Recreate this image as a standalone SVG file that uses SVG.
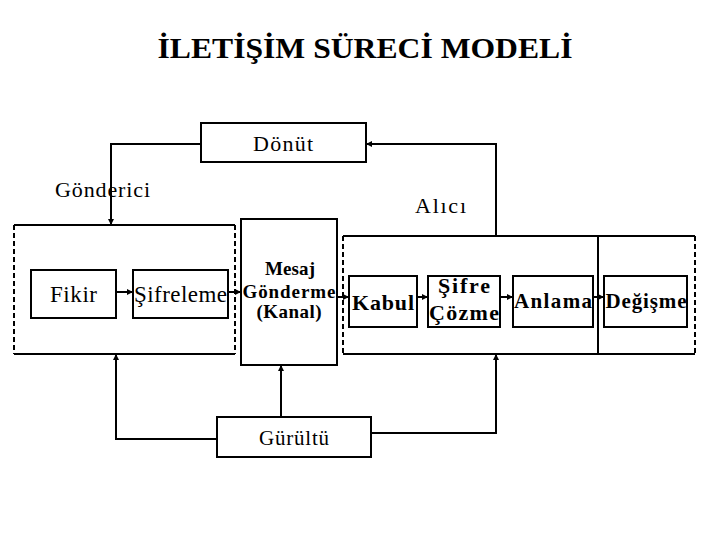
<svg xmlns="http://www.w3.org/2000/svg" width="720" height="540" viewBox="0 0 720 540">
<style>
.box{fill:#fff;stroke:#000;stroke-width:2}
.solid{fill:none;stroke:#000;stroke-width:2}
.dash{fill:none;stroke:#000;stroke-width:2;stroke-dasharray:5,3}
.con{fill:none;stroke:#000;stroke-width:2}
</style>
<defs>
<marker id="ah" viewBox="0 0 10 10" refX="10" refY="5" markerWidth="3" markerHeight="3" orient="auto" markerUnits="strokeWidth">
<path d="M0,0 L10,5 L0,10 z" fill="#000"/>
</marker>
</defs>
<rect width="720" height="540" fill="#fff"/>
<text x="365" y="58" font-family="Liberation Serif" font-weight="bold" font-size="30" text-anchor="middle" textLength="415" lengthAdjust="spacingAndGlyphs">İLETİŞİM SÜRECİ MODELİ</text>

<g id="gonderici" font-family="Liberation Serif">
<line class="solid" x1="14" y1="225" x2="235" y2="225"/>
<line class="solid" x1="14" y1="354" x2="235" y2="354"/>
<line class="dash" x1="14" y1="225" x2="14" y2="354"/>
<line class="dash" x1="235" y1="225" x2="235" y2="354"/>
<text x="55" y="197" font-family="Liberation Serif" font-size="22" textLength="95" lengthAdjust="spacing">Gönderici</text>
</g>
<g id="alici" font-family="Liberation Serif">
<line class="solid" x1="343" y1="236" x2="695" y2="236"/>
<line class="solid" x1="343" y1="354" x2="695" y2="354"/>
<line class="dash" x1="343" y1="236" x2="343" y2="354"/>
<line class="dash" x1="695" y1="236" x2="695" y2="354"/>
<line class="solid" x1="598" y1="236" x2="598" y2="354"/>
<text x="415" y="213" font-family="Liberation Serif" font-size="22" textLength="51" lengthAdjust="spacing">Alıcı</text>
</g>

<g id="fikir" font-family="Liberation Serif"><rect class="box" x="31" y="270" width="85" height="48"/>
<text x="73.5" y="302" font-family="Liberation Serif" font-size="23" text-anchor="middle" textLength="47" lengthAdjust="spacing">Fikir</text></g>
<g id="sifreleme" font-family="Liberation Serif"><rect class="box" x="133" y="270" width="95" height="48"/>
<text x="180.5" y="302" font-family="Liberation Serif" font-size="23" text-anchor="middle" textLength="93" lengthAdjust="spacing">Şifreleme</text></g>
<g id="mesaj" font-family="Liberation Serif" font-weight="bold"><rect class="box" x="241" y="219" width="96" height="146"/>
<text x="290" y="275" font-family="Liberation Serif" font-weight="bold" font-size="19" text-anchor="middle" textLength="50" lengthAdjust="spacing">Mesaj</text>
<text x="289" y="298" font-family="Liberation Serif" font-weight="bold" font-size="19" text-anchor="middle" textLength="93" lengthAdjust="spacing">Gönderme</text>
<text x="289" y="318" font-family="Liberation Serif" font-weight="bold" font-size="19" text-anchor="middle" textLength="65" lengthAdjust="spacing">(Kanal)</text></g>
<g id="kabul" font-family="Liberation Serif" font-weight="bold"><rect class="box" x="349" y="276" width="68" height="51"/>
<text x="383" y="310" font-family="Liberation Serif" font-weight="bold" font-size="22" text-anchor="middle" textLength="62" lengthAdjust="spacing">Kabul</text></g>
<g id="sifrecozme" font-family="Liberation Serif" font-weight="bold"><rect class="box" x="428" y="276" width="72" height="51"/>
<text x="464" y="293" font-family="Liberation Serif" font-weight="bold" font-size="22" text-anchor="middle" textLength="52" lengthAdjust="spacing">Şifre</text>
<text x="464" y="320" font-family="Liberation Serif" font-weight="bold" font-size="22" text-anchor="middle" textLength="70" lengthAdjust="spacing">Çözme</text></g>
<g id="anlama" font-family="Liberation Serif" font-weight="bold"><rect class="box" x="513" y="276" width="80" height="51"/>
<text x="553" y="308" font-family="Liberation Serif" font-weight="bold" font-size="21" text-anchor="middle" textLength="78" lengthAdjust="spacing">Anlama</text></g>
<g id="degisme" font-family="Liberation Serif" font-weight="bold"><rect class="box" x="604" y="276" width="83" height="51"/>
<text x="646" y="308" font-family="Liberation Serif" font-weight="bold" font-size="21" text-anchor="middle" textLength="81" lengthAdjust="spacing">Değişme</text></g>
<g id="donut" font-family="Liberation Serif"><rect class="box" x="201" y="123" width="165" height="39"/>
<text x="283" y="151" font-family="Liberation Serif" font-size="22" text-anchor="middle" textLength="60" lengthAdjust="spacing">Dönüt</text></g>
<g id="gurultu" font-family="Liberation Serif"><rect class="box" x="217" y="417" width="154" height="40"/>
<text x="294" y="445" font-family="Liberation Serif" font-size="21" text-anchor="middle" textLength="70" lengthAdjust="spacing">Gürültü</text></g>

<g id="connectors">
<line class="con" x1="116" y1="292" x2="133" y2="292" marker-end="url(#ah)"/>
<line class="con" x1="228" y1="292" x2="241" y2="292" marker-end="url(#ah)"/>
<line class="con" x1="337" y1="297" x2="349" y2="297" marker-end="url(#ah)"/>
<line class="con" x1="417" y1="297" x2="428" y2="297" marker-end="url(#ah)"/>
<line class="con" x1="500" y1="297" x2="513" y2="297" marker-end="url(#ah)"/>
<line class="con" x1="593" y1="297" x2="604" y2="297" marker-end="url(#ah)"/>
<polyline class="con" points="201,144 111,144 111,225" marker-end="url(#ah)"/>
<polyline class="con" points="496,236 496,144 366,144" marker-end="url(#ah)"/>
<polyline class="con" points="217,439 116,439 116,354" marker-end="url(#ah)"/>
<line class="con" x1="281" y1="417" x2="281" y2="365" marker-end="url(#ah)"/>
<polyline class="con" points="371,433 496,433 496,354" marker-end="url(#ah)"/>
</g>
</svg>
